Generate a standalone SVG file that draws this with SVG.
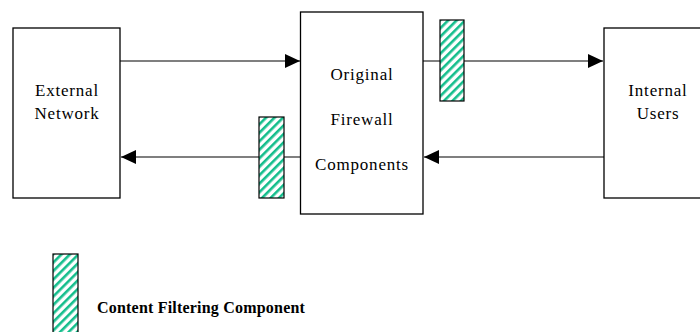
<svg xmlns="http://www.w3.org/2000/svg" width="700" height="332" viewBox="0 0 700 332">
  <style>
    .box { fill: #fff; stroke: #000; stroke-width: 1.3; }
    .lbl { font-family: 'Liberation Serif', 'DejaVu Serif', serif; font-size: 17px; letter-spacing: 0.8px; fill: #000; text-anchor: middle; }
    .leg { font-family: 'Liberation Serif', 'DejaVu Serif', serif; font-size: 16px; font-weight: bold; letter-spacing: 0.2px; fill: #000; }
    .conn { stroke: #000; stroke-width: 1.2; fill: none; marker-end: url(#arrow); }
    .hatch { fill: url(#stripes); stroke: #000; stroke-width: 1.2; }
  </style>
  <defs>
    <marker id="arrow" viewBox="0 0 15 14" refX="15" refY="7" markerWidth="15" markerHeight="14" markerUnits="userSpaceOnUse" orient="auto">
      <path d="M0,0 L15,7 L0,14 Z" fill="#000"/>
    </marker>
    <pattern id="stripes" patternUnits="userSpaceOnUse" width="6" height="6" patternTransform="rotate(45)">
      <rect width="6" height="6" fill="#fff"/>
      <rect x="0" y="0" width="2.6" height="6" fill="#14BE8C"/>
    </pattern>
  </defs>

  <g id="connectors">
    <line class="conn" x1="120" y1="61" x2="300" y2="61"/>
    <line class="conn" x1="300" y1="157" x2="121" y2="157"/>
    <line class="conn" x1="423" y1="61" x2="603" y2="61"/>
    <line class="conn" x1="604" y1="157" x2="424" y2="157"/>
  </g>

  <g id="external-network">
    <rect class="box" x="13" y="28" width="107" height="170"/>
    <text class="lbl" x="67" y="96" font-family="Liberation Serif, serif">External</text>
    <text class="lbl" x="67" y="119" font-family="Liberation Serif, serif">Network</text>
  </g>

  <g id="firewall">
    <rect class="box" x="300.5" y="12" width="122.5" height="202"/>
    <text class="lbl" x="362" y="80">Original</text>
    <text class="lbl" x="362" y="125">Firewall</text>
    <text class="lbl" x="362" y="170">Components</text>
  </g>

  <g id="internal-users">
    <rect class="box" x="604" y="28" width="110" height="170"/>
    <text class="lbl" x="658" y="96">Internal</text>
    <text class="lbl" x="658" y="119">Users</text>
  </g>

  <g id="filter-out">
    <rect class="hatch" x="440" y="20" width="24" height="81"/>
  </g>

  <g id="filter-in">
    <rect class="hatch" x="259" y="117" width="25" height="81"/>
  </g>

  <g id="legend">
    <rect class="hatch" x="53" y="254" width="25" height="90"/>
    <text class="leg" x="97" y="313">Content Filtering Component</text>
  </g>
</svg>
